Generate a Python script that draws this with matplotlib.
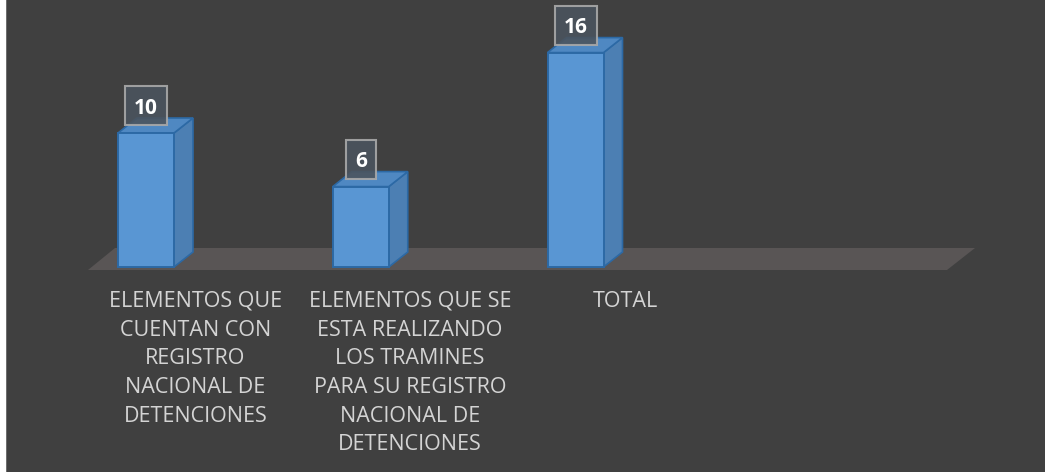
import matplotlib
matplotlib.use("Agg")
import matplotlib.pyplot as plt
from matplotlib.patches import Polygon, Rectangle

categories = [
    "ELEMENTOS QUE\nCUENTAN CON\nREGISTRO\nNACIONAL DE\nDETENCIONES",
    "ELEMENTOS QUE SE\nESTA REALIZANDO\nLOS TRAMINES\nPARA SU REGISTRO\nNACIONAL DE\nDETENCIONES",
    "TOTAL",
    "",
]
values = [10, 6, 16]

W, H = 1045, 475
fig = plt.figure(figsize=(W / 100, H / 100), dpi=100, facecolor="white")

# background panel axes
bg = fig.add_axes([0, 0, 1, 1], zorder=-5)
bg.axis("off")
bg.set_xlim(0, W)
bg.set_ylim(H, 0)
bg.add_patch(Rectangle((7, 0), W - 7, H - 3, facecolor="#404040", edgecolor="none"))
bg.add_patch(Rectangle((5.5, 0), 1.5, H - 3, facecolor="#6e6e6e", edgecolor="none"))

ax = fig.add_axes([0, 0, 1, 1], zorder=1)
ax.set_facecolor("none")
ax.axis("off")

# pixel -> data scales
slot_px = (947 - 88) / 4.0
ppu = 13.4  # pixels per value unit
x0_px = 88
base_px = 267
ax.set_xlim(-0.5 - x0_px / slot_px, -0.5 + (W - x0_px) / slot_px)
ax.set_ylim(-(H - base_px) / ppu, base_px / ppu)

def px_x(p):
    return p / slot_px

def px_y(p):
    return p / ppu

n = len(categories)
# floor
fl = -px_y(3)
floor = Polygon([(-0.5, fl), (n - 0.5, fl), (n - 0.5 + px_x(28), fl + px_y(22)),
                 (-0.5 + px_x(27), fl + px_y(22))], closed=True,
                facecolor="#595555", edgecolor="none", zorder=1)
ax.add_patch(floor)

dx, dy = px_x(19), px_y(15)
bw = px_x(56)
edge = "#2c69a5"
for i, v in enumerate(values):
    left = i - 0.5 + px_x(30)
    right = left + bw
    side = Polygon([(right, 0), (right + dx, dy), (right + dx, v + dy), (right, v)],
                   closed=True, facecolor="#4c7fb3", edgecolor=edge, lw=1.2, zorder=3)
    top = Polygon([(left, v), (right, v), (right + dx, v + dy), (left + dx, v + dy)],
                  closed=True, facecolor="#4f88c2", edgecolor=edge, lw=1.2, zorder=3)
    front = Rectangle((left, 0), bw, v, facecolor="#5996d3", edgecolor=edge, lw=1.4, zorder=4)
    for p in (side, top, front):
        ax.add_patch(p)
    # value label box
    cx = (left + right) / 2
    bwid = px_x(18 + 12 * len(str(v)))
    by0 = v + px_y(8)
    bh = px_y(39)
    ax.add_patch(Rectangle((cx - bwid / 2, by0), bwid, bh, facecolor="#4b545e", alpha=0.9,
                           edgecolor="#a9a9a9", lw=1.5, zorder=5))
    ax.text(cx, by0 + bh / 2, str(v), ha="center", va="center_baseline", color="white",
            fontsize=15, fontweight="bold", family="Open Sans", zorder=6)

for i, c in enumerate(categories):
    if c:
        ax.text(i, -px_y(24), c, ha="center", va="top", color="#d4d4d4", fontsize=15.5,
                family="Open Sans", linespacing=1.48, zorder=6)

fig.savefig("out.png", dpi=100, facecolor="white")
